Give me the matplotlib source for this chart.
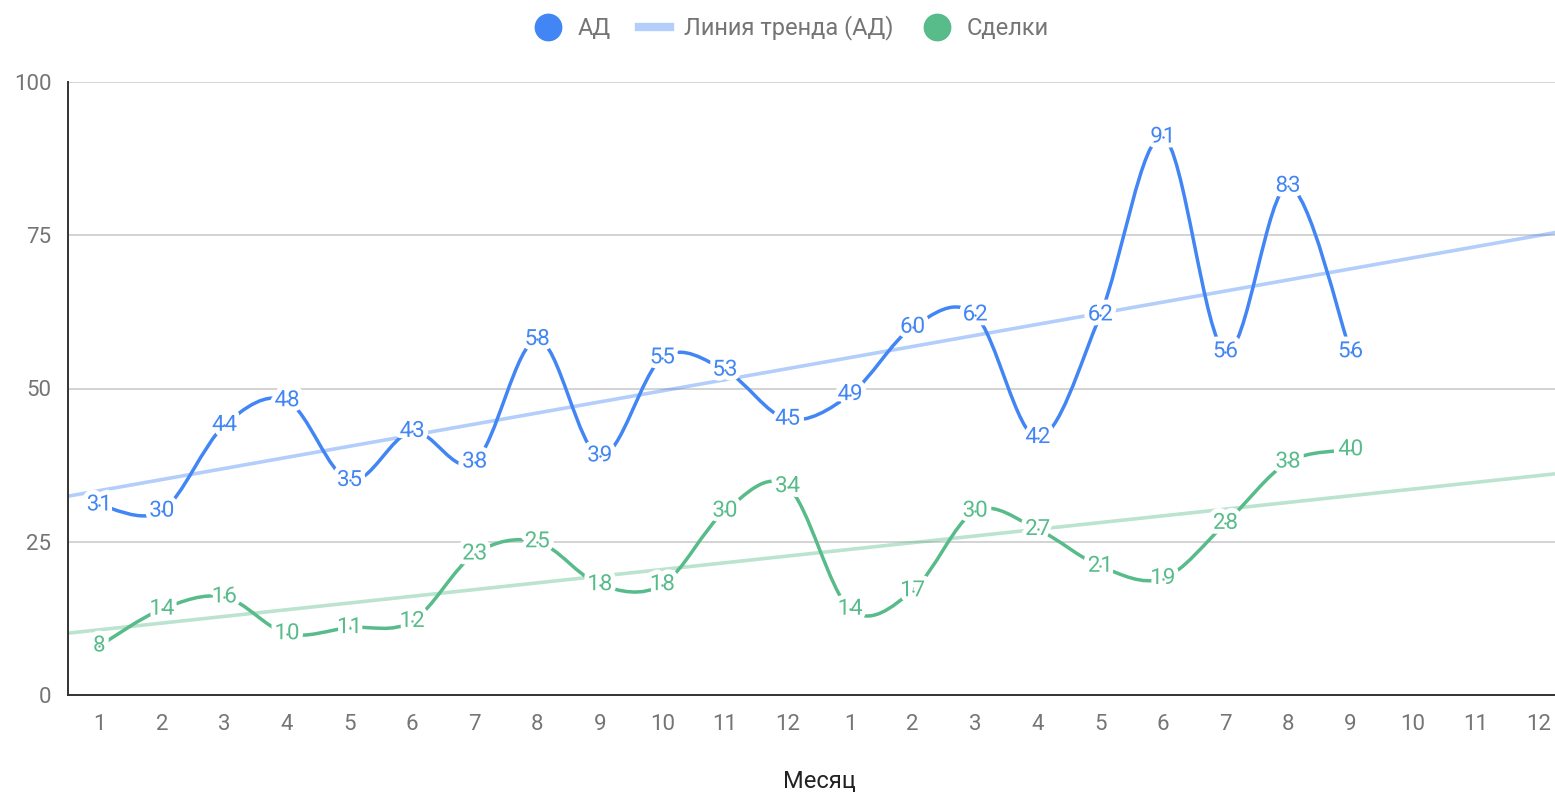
import matplotlib
matplotlib.use("Agg")
from matplotlib import pyplot as plt
from matplotlib.path import Path
from matplotlib.patches import PathPatch
from matplotlib.lines import Line2D
import matplotlib.patheffects as pe
import numpy as np

monthLabels = ["1", "2", "3", "4", "5", "6", "7", "8", "9", "10", "11", "12",
               "1", "2", "3", "4", "5", "6", "7", "8", "9", "10", "11", "12"]
adValues = [31, 30, 44, 48, 35, 43, 38, 58, 39, 55, 53, 45,
            49, 60, 62, 42, 62, 91, 56, 83, 56]
dealValues = [8, 14, 16, 10, 11, 12, 23, 25, 18, 18, 30, 34,
              14, 17, 30, 27, 21, 19, 28, 38, 40]

blue = "#4285F4"
green = "#57BB8A"
tickColor = "#757575"

plt.rcParams["font.family"] = ["Roboto", "DejaVu Sans"]


def smoothPath(xs, ys, k=1 / 6):
    # catmull-rom style bezier, like the google "function" curve
    pts = np.column_stack([xs, ys]).astype(float)
    n = len(pts)
    verts = [pts[0]]
    codes = [Path.MOVETO]
    for i in range(n - 1):
        p0 = pts[i - 1] if i > 0 else pts[i]
        p1 = pts[i]
        p2 = pts[i + 1]
        p3 = pts[i + 2] if i + 2 < n else pts[i + 1]
        verts += [p1 + (p2 - p0) * k, p2 - (p3 - p1) * k, p2]
        codes += [Path.CURVE4] * 3
    return Path(verts, codes)


fig = plt.figure(figsize=(15.55, 7.94), dpi=100)
ax = fig.add_axes([68 / 1555, 1 - 695 / 794, 1501.6 / 1555, 613 / 794])
ax.set_xlim(-0.5, 23.5)
ax.set_ylim(0, 100)

xAll = np.arange(len(monthLabels))
halo = [pe.withStroke(linewidth=7, foreground="white")]

for vals, col in [(adValues, blue), (dealValues, green)]:
    xs = np.arange(len(vals))
    slope, intercept = np.polyfit(xs, vals, 1)
    xr = np.array([-0.5, 23.5])
    ax.plot(xr, slope * xr + intercept, color=col, alpha=0.4, lw=2.6,
            solid_capstyle="butt", zorder=2)
    ax.add_patch(PathPatch(smoothPath(xs, vals), facecolor="none",
                           edgecolor=col, lw=2.5, zorder=3,
                           transform=ax.transData))
    for x, v in zip(xs, vals):
        ax.text(x, v, str(v), color=col, fontsize=16, ha="center",
                va="center", zorder=5, path_effects=halo)
    ax.scatter(xs, vals, s=3, color=col, zorder=6, linewidths=0)

ax.set_yticks([0, 25, 50, 75, 100])
ax.set_xticks(xAll)
ax.set_xticklabels(monthLabels)
ax.tick_params(length=0, labelsize=16, labelcolor=tickColor)
ax.tick_params(axis="x", pad=14)
ax.tick_params(axis="y", pad=12)
ax.grid(axis="y", color="#CCCCCC", lw=1.2)
ax.set_axisbelow(True)
for s in ["top", "right"]:
    ax.spines[s].set_visible(False)
ax.spines["left"].set_color("#333333")
ax.spines["bottom"].set_color("#333333")
ax.spines["left"].set_linewidth(1.4)
ax.spines["bottom"].set_linewidth(1.4)

fig.text(819 / 1555, 1 - 781 / 794, "Месяц", ha="center", va="center",
         fontsize=17, color="#222222")

handles = [
    Line2D([], [], marker="o", ls="none", color=blue, markersize=19),
    Line2D([], [], color=blue, alpha=0.4, lw=6),
    Line2D([], [], marker="o", ls="none", color=green, markersize=19),
]
fig.legend(handles, ["АД", "Линия тренда (АД)", "Сделки"], loc="center",
           bbox_to_anchor=(791 / 1555, 1 - 28 / 794), ncol=3, frameon=False,
           fontsize=17, labelcolor=tickColor, handlelength=1.3,
           handletextpad=0.6, columnspacing=1.2)

plt.savefig("out.png", dpi=100)
